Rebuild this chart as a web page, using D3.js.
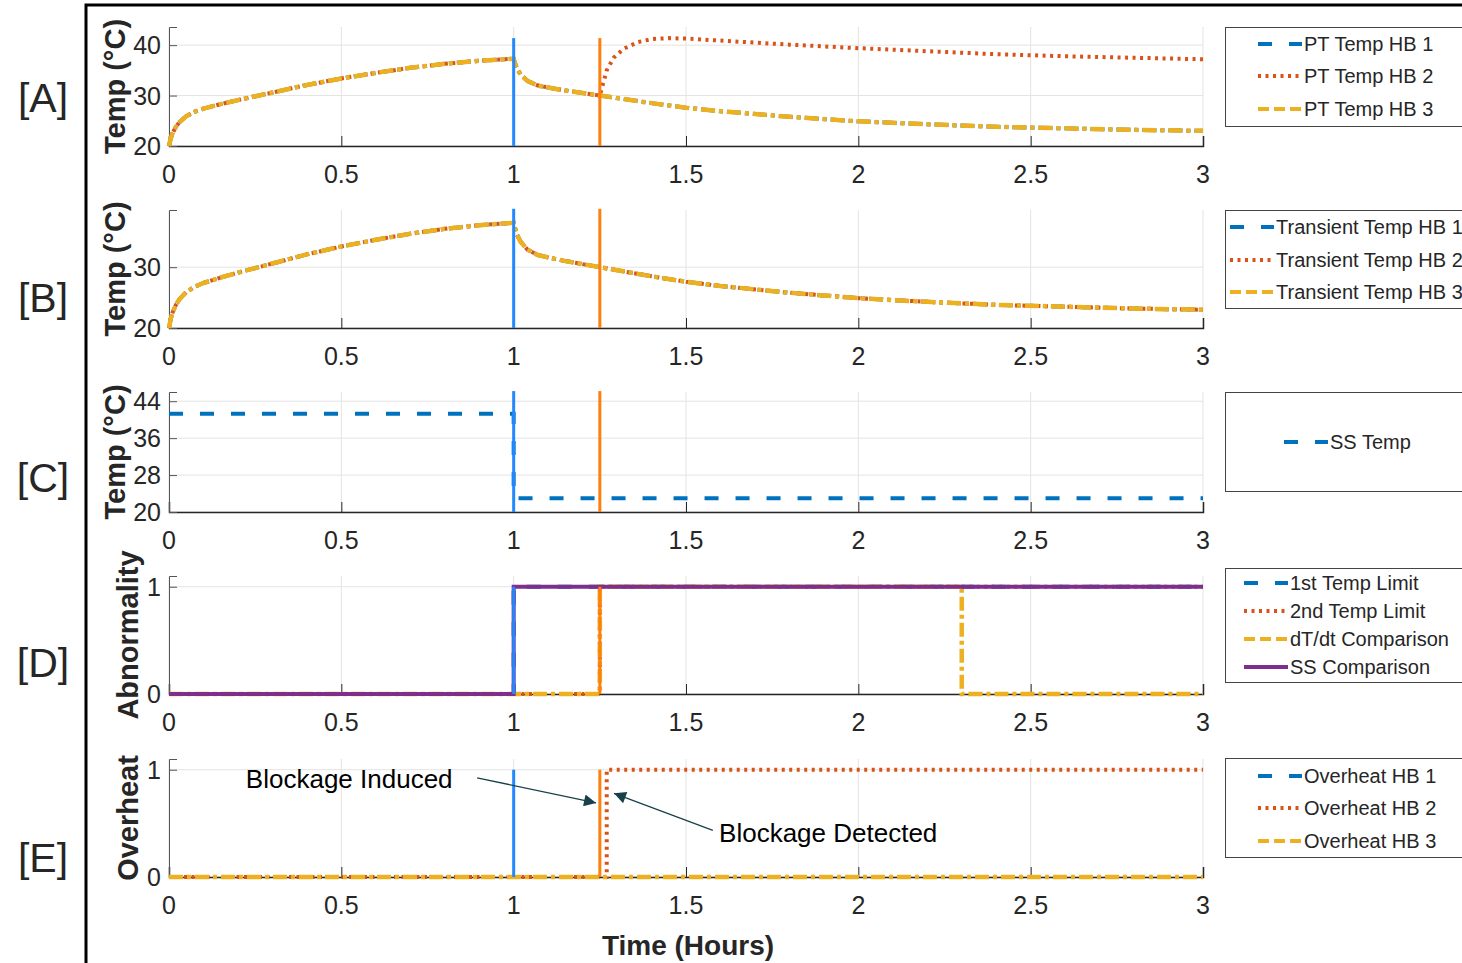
<!DOCTYPE html>
<html>
<head>
<meta charset="utf-8">
<script src="https://cdn.jsdelivr.net/npm/d3@7"></script>
<style>
  body { margin: 0; background: #fff; }
  text { font-family: "Liberation Sans", Arial, sans-serif; fill: #262626; }
</style>
</head>
<body>
<div id="chart-area"></div>
<script>
// time axis
const xTicks = [0, 0.5, 1, 1.5, 2, 2.5, 3];
const xTickLabels = ["0", "0.5", "1", "1.5", "2", "2.5", "3"];
const eventTimes = [1, 1.25]; // blockage on HB1, blockage induced

// [A] / [B] temperature curves (hours, deg C)
const tTemp = [0, 0.005, 0.01, 0.02, 0.03, 0.05, 0.075, 0.1, 0.15, 0.2, 0.3, 0.4, 0.5, 0.6, 0.7, 0.8, 0.9, 1.0,
  1.005, 1.01, 1.02, 1.04, 1.07, 1.1, 1.15, 1.2, 1.25, 1.3, 1.4, 1.5, 1.6, 1.8, 2.0, 2.2, 2.4, 2.6, 2.8, 3.0];
const tempHB13 = [20, 21.5, 22.5, 23.8, 24.7, 25.9, 26.8, 27.4, 28.3, 29.1, 30.6, 32.1, 33.4, 34.5, 35.5, 36.3, 36.9, 37.3,
  36.2, 35.3, 34.2, 32.9, 32.0, 31.6, 31.0, 30.5, 30.0, 29.5, 28.5, 27.6, 26.9, 25.8, 24.9, 24.3, 23.8, 23.5, 23.2, 23.0];
const tHB2 = [1.25, 1.26, 1.27, 1.29, 1.32, 1.36, 1.4, 1.45, 1.5, 1.6, 1.7, 1.8, 2.0, 2.2, 2.4, 2.6, 2.8, 3.0];
const tempHB2 = [30.0, 32.5, 35.0, 37.5, 39.3, 40.6, 41.2, 41.4, 41.3, 40.9, 40.5, 40.1, 39.4, 38.8, 38.2, 37.8, 37.5, 37.2];

// [C] steady state temp
const tSS = [0, 1, 1, 3];
const ssTemp = [41.3, 41.3, 23.0, 23.0];

// [D] abnormality flags
const tLim1 = [0, 1, 1, 3], lim1 = [0, 0, 1, 1];
const tLim2 = [0, 1.25, 1.25, 3], lim2 = [0, 0, 1, 1];
const tDtdt = [0, 1.25, 1.25, 2.3, 2.3, 3], dtdt = [0, 0, 1, 1, 0, 0];
const tSSc = [0, 1, 1, 3], ssComp = [0, 0, 1, 1];

// [E] overheat flags
const tOh = [0, 3], oh1 = [0, 0], oh3 = [0, 0];
const tOh2 = [0, 1.27, 1.27, 3], oh2 = [0, 0, 1, 1];

const C = { blue: "#0072BD", red: "#D95319", yellow: "#EDB120", purple: "#7E2F8E",
  evBlue: "#2288ff", evOrange: "#ff7f0e" };
const DASH = { dash: "14,17", dot: "3,4.5", dashdot: "14,4,4,4", solid: null };

const zip = (ts, vs) => ts.map((t, i) => [t, vs[i]]);
const hb13 = zip(tTemp, tempHB13);
const hb2 = zip(tTemp.filter(t => t < 1.25), tempHB13.filter((v, i) => tTemp[i] < 1.25)).concat(zip(tHB2, tempHB2));

// HB1 sits exactly under HB3 in A, B, E: drawn with HB3's pattern so it stays hidden like in the figure
const panels = [
  { tag: "[A]", tagY: 98, ylab: "Temp (°C)", labX: 125, top: 27, bot: 146, dom: [20, 43.6], ticks: [20, 30, 40], evTop: 41.4,
    series: [
      { name: "PT Temp HB 1", data: hb13, color: C.blue, dash: "dash", under: true },
      { name: "PT Temp HB 2", data: hb2, color: C.red, dash: "dot" },
      { name: "PT Temp HB 3", data: hb13, color: C.yellow, dash: "dashdot" }],
    leg: { y: 27, h: 99, sx: 1258, rows: [44, 76, 109] } },
  { tag: "[B]", tagY: 298, ylab: "Temp (°C)", labX: 125, top: 210, bot: 328, dom: [20, 39.4], ticks: [20, 30], evTop: 39.6,
    series: [
      { name: "Transient Temp HB 1", data: hb13, color: C.blue, dash: "dash", under: true },
      { name: "Transient Temp HB 2", data: hb13, color: C.red, dash: "dot" },
      { name: "Transient Temp HB 3", data: hb13, color: C.yellow, dash: "dashdot" }],
    leg: { y: 210, h: 98, sx: 1230, rows: [227, 260, 292] } },
  { tag: "[C]", tagY: 478, ylab: "Temp (°C)", labX: 125, top: 392, bot: 512, dom: [20, 46], ticks: [20, 28, 36, 44], evTop: 46.2,
    series: [
      { name: "SS Temp", data: zip(tSS, ssTemp), color: C.blue, dash: "dash" }],
    leg: { y: 392, h: 99, sx: 1284, rows: [442] } },
  { tag: "[D]", tagY: 663, ylab: "Abnormality", labX: 138, top: 576, bot: 694, dom: [0, 1.1], ticks: [0, 1], evTop: 1,
    series: [
      { name: "1st Temp Limit", data: zip(tLim1, lim1), color: C.blue, dash: "dash" },
      { name: "2nd Temp Limit", data: zip(tLim2, lim2), color: C.red, dash: "dot" },
      { name: "dT/dt Comparison", data: zip(tDtdt, dtdt), color: C.yellow, dash: "dashdot" },
      { name: "SS Comparison", data: zip(tSSc, ssComp), color: C.purple, dash: "solid" }],
    leg: { y: 568, h: 114, sx: 1244, rows: [583, 611, 639, 667] } },
  { tag: "[E]", tagY: 858, ylab: "Overheat", labX: 138, top: 759, bot: 877, dom: [0, 1.1], ticks: [0, 1], evTop: 1,
    series: [
      { name: "Overheat HB 1", data: zip(tOh, oh1), color: C.blue, dash: "dash", under: true },
      { name: "Overheat HB 2", data: zip(tOh2, oh2), color: C.red, dash: "dot" },
      { name: "Overheat HB 3", data: zip(tOh, oh3), color: C.yellow, dash: "dashdot" }],
    leg: { y: 758, h: 99, sx: 1258, rows: [776, 808, 841] } }
];

const W = 1462, H = 963;
const svg = d3.select("#chart-area").append("svg")
  .attr("width", W).attr("height", H);

const x = d3.scaleLinear().domain([0, 3]).range([169, 1203]);

panels.forEach(p => {
  const y = d3.scaleLinear().domain(p.dom).range([p.bot, p.top]);
  const g = svg.append("g");

  // grid
  g.selectAll(".vgrid").data(xTicks).enter().append("line")
    .attr("x1", d => x(d)).attr("x2", d => x(d))
    .attr("y1", p.top).attr("y2", p.bot)
    .attr("stroke", "#e3e3e3").attr("stroke-width", 1);
  g.selectAll(".hgrid").data(p.ticks).enter().append("line")
    .attr("x1", x(0)).attr("x2", x(3))
    .attr("y1", d => y(d)).attr("y2", d => y(d))
    .attr("stroke", "#e3e3e3").attr("stroke-width", 1);

  // axes (ticks inward like matlab)
  const xAxis = g.append("g")
    .attr("transform", `translate(0, ${p.bot})`)
    .call(d3.axisTop(x).tickValues(xTicks).tickSize(10).tickFormat(""));
  xAxis.select(".domain").attr("stroke", "#262626").attr("stroke-width", 1.5);
  xAxis.selectAll(".tick line").attr("stroke", "#262626");
  g.selectAll(".xlab").data(xTicks).enter().append("text")
    .attr("x", d => x(d)).attr("y", p.bot + 28)
    .attr("text-anchor", "middle").attr("dominant-baseline", "central")
    .attr("font-size", "25px")
    .text((d, i) => xTickLabels[i]);

  const yAxis = g.append("g")
    .attr("transform", `translate(${x(0)}, 0)`)
    .call(d3.axisRight(y).tickValues(p.ticks).tickSize(8).tickFormat(""));
  yAxis.select(".domain").attr("stroke", "#555").attr("stroke-width", 1);
  yAxis.selectAll(".tick line").attr("stroke", "#555");
  g.selectAll(".ylab").data(p.ticks).enter().append("text")
    .attr("x", x(0) - 8).attr("y", d => y(d))
    .attr("text-anchor", "end").attr("dominant-baseline", "central")
    .attr("font-size", "25px")
    .text(d => d);

  // y label
  g.append("text")
    .attr("transform", `translate(${p.labX}, ${(p.top + p.bot) / 2}) rotate(-90)`)
    .attr("text-anchor", "middle")
    .attr("font-size", "29px").attr("font-weight", "bold")
    .text(p.ylab);

  // panel tag
  g.append("text")
    .attr("x", 43).attr("y", p.tagY)
    .attr("text-anchor", "middle").attr("dominant-baseline", "central")
    .attr("font-size", "41px")
    .text(p.tag);

  // series
  const line = d3.line().x(d => x(d[0])).y(d => y(d[1]));
  p.series.forEach(s => {
    g.append("path")
      .datum(s.data)
      .attr("d", line)
      .attr("fill", "none")
      .attr("stroke", s.color)
      .attr("stroke-width", s.dash === "dashdot" ? 4.5 : 4)
      .attr("stroke-dasharray", s.under ? DASH.dashdot : DASH[s.dash]);
  });

  // event markers
  g.selectAll(".ev").data(eventTimes).enter().append("line")
    .attr("x1", d => x(d)).attr("x2", d => x(d))
    .attr("y1", y(p.dom[0])).attr("y2", y(p.evTop))
    .attr("stroke", (d, i) => i === 0 ? C.evBlue : C.evOrange)
    .attr("stroke-width", 3);

  // legend
  const L = p.leg;
  g.append("rect")
    .attr("x", 1225.5).attr("y", L.y + 0.5)
    .attr("width", 260).attr("height", L.h)
    .attr("fill", "#fff").attr("stroke", "#444").attr("stroke-width", 1);
  p.series.forEach((s, i) => {
    g.append("line")
      .attr("x1", L.sx).attr("x2", L.sx + 44)
      .attr("y1", L.rows[i]).attr("y2", L.rows[i])
      .attr("stroke", s.color).attr("stroke-width", 4)
      .attr("stroke-dasharray", s.dash === "dashdot" ? "11,5" : DASH[s.dash]);
    g.append("text")
      .attr("x", L.sx + 46).attr("y", L.rows[i])
      .attr("dominant-baseline", "central")
      .attr("font-size", "20px")
      .text(s.name);
  });

  p.y = y;
});

// annotations on [E]
const yE = panels[4].y;
svg.append("defs").append("marker")
  .attr("id", "arr").attr("viewBox", "0 0 10 10")
  .attr("refX", 10).attr("refY", 5)
  .attr("markerWidth", 16).attr("markerHeight", 12)
  .attr("markerUnits", "userSpaceOnUse")
  .attr("orient", "auto")
  .append("path").attr("d", "M0,0 L10,5 L0,10 Z").attr("fill", "#17414a");

const notes = [
  { text: "Blockage Induced", tx: 0.223, ty: 0.83, from: [0.894, 0.925], to: [1.239, 0.69] },
  { text: "Blockage Detected", tx: 1.596, ty: 0.33, from: [1.578, 0.435], to: [1.291, 0.78] }
];
notes.forEach(n => {
  svg.append("line")
    .attr("x1", x(n.from[0])).attr("y1", yE(n.from[1]))
    .attr("x2", x(n.to[0])).attr("y2", yE(n.to[1]))
    .attr("stroke", "#17414a").attr("stroke-width", 1.3)
    .attr("marker-end", "url(#arr)");
  svg.append("text")
    .attr("x", x(n.tx)).attr("y", yE(n.ty))
    .attr("font-size", "26px").style("fill", "#000")
    .text(n.text);
});

// x label
svg.append("text")
  .attr("x", 688).attr("y", 945)
  .attr("text-anchor", "middle").attr("dominant-baseline", "central")
  .attr("font-size", "28px").attr("font-weight", "bold")
  .text("Time (Hours)");

// outer frame (left and top)
svg.append("path")
  .attr("d", `M86,${H} V5 H${W}`)
  .attr("fill", "none").attr("stroke", "#000").attr("stroke-width", 3);
</script>
</body>
</html>
